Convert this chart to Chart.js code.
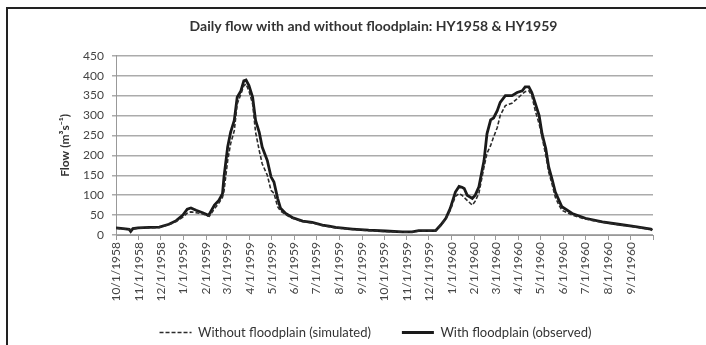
<!DOCTYPE html>
<html>
<head>
<meta charset="utf-8">
<script src="https://cdn.jsdelivr.net/npm/chart.js@4"></script>
<style>
  body { margin: 0; background: #fff; }
  #wrap { position: relative; width: 706px; height: 345px; }
  #frame {
    position: absolute; left: 6px; top: 7px; width: 700px; height: 338px;
    border-left: 2px solid #222; border-top: 2px solid #222; pointer-events: none;
  }
</style>
</head>
<body>
<div id="wrap">
  <canvas id="flow_chart" width="706" height="345"></canvas>
  <div id="frame"></div>
</div>
<script>
// days since 10/1/1958
var days = [0, 10, 18, 20, 23, 30, 45, 59, 72, 82,
  91, 97, 102, 109, 118, 125, 127, 134, 140, 145,
  147, 152, 156, 161, 165, 170, 174, 177, 181, 186,
  190, 195, 199, 206, 211, 215, 220, 224, 231, 240,
  254, 267, 281, 290, 299, 322, 344, 367, 390, 403,
  412, 435, 442, 449, 455, 462, 467, 471, 474, 478,
  485, 489, 494, 501, 505, 510, 514, 519, 523, 530,
  539, 546, 553, 557, 562, 566, 571, 576, 580, 585,
  589, 594, 598, 603, 607, 621, 639, 662, 684, 707,
  728, 730];

var withFlow = [18, 16, 14, 9, 16, 18, 19, 20, 27, 36,
  50, 65, 68, 62, 56, 50, 52, 75, 87, 104,
  146, 221, 258, 288, 346, 362, 387, 389, 375, 346,
  288, 258, 221, 187, 146, 133, 92, 67, 54, 44,
  35, 32, 25, 22, 19, 15, 12, 10, 8, 8,
  11, 11, 25, 42, 67, 108, 122, 120, 117, 100,
  92, 100, 121, 187, 254, 289, 294, 312, 333, 350,
  350, 358, 362, 372, 372, 358, 329, 300, 254, 217,
  171, 137, 108, 87, 71, 54, 42, 33, 27, 21,
  15, 12];

var withoutFlow = [17, 15, 14, 13, 15, 17, 18, 19, 26, 34,
  45, 55, 58, 56, 53, 48, 47, 66, 80, 95,
  110, 187, 229, 262, 329, 354, 375, 379, 362, 329,
  258, 212, 179, 150, 112, 105, 71, 60, 51, 42,
  34, 30, 24, 21, 18, 14, 11, 9, 7, 7,
  10, 10, 24, 40, 62, 97, 104, 100, 94, 87,
  75, 85, 105, 171, 205, 225, 246, 270, 300, 325,
  331, 342, 354, 360, 362, 350, 310, 279, 246, 200,
  158, 125, 95, 75, 62, 50, 40, 32, 26, 20,
  14, 12];

var tickDays = [0, 31, 61, 92, 123, 151, 182, 212, 243, 273, 304, 335,
  365, 396, 426, 457, 488, 517, 548, 578, 609, 639, 670, 701, 731];
var tickLabels = ['10/1/1958', '11/1/1958', '12/1/1958', '1/1/1959', '2/1/1959',
  '3/1/1959', '4/1/1959', '5/1/1959', '6/1/1959', '7/1/1959', '8/1/1959',
  '9/1/1959', '10/1/1959', '11/1/1959', '12/1/1959', '1/1/1960', '2/1/1960',
  '3/1/1960', '4/1/1960', '5/1/1960', '6/1/1960', '7/1/1960', '8/1/1960',
  '9/1/1960'];

const FONT = 'Lato, "Open Sans", sans-serif';

function toPoints(values) {
  return days.map((d, i) => ({x: d, y: values[i]}));
}

// title and legend sit over the plot rather than the whole canvas
var nudge = {
  id: 'nudge',
  afterLayout(chart) {
    chart.titleBlock.left = 94;
    chart.legend.left += 43;
    chart.legend.top -= 10;
  }
};

window.onload = () => {
  new Chart('flow_chart', {
    type: 'line',
    data: {
      datasets: [{
        label: 'Without floodplain (simulated)',
        data: toPoints(withoutFlow),
        borderColor: '#2b2b2b',
        borderWidth: 1.6,
        borderDash: [4, 2],
        pointRadius: 0,
        tension: 0,
        fill: false
      }, {
        label: 'With floodplain (observed)',
        data: toPoints(withFlow),
        borderColor: '#1a1a1a',
        borderWidth: 2.8,
        pointRadius: 0,
        tension: 0,
        fill: false
      }]
    },
    plugins: [nudge],
    options: {
      responsive: false,
      animation: false,
      layout: {padding: {left: 55, right: 53, top: 0, bottom: 0}},
      plugins: {
        title: {
          display: true,
          text: 'Daily flow with and without floodplain: HY1958 & HY1959',
          color: '#333',
          font: {family: FONT, size: 14, weight: 'bold'},
          padding: {top: 18, bottom: 21}
        },
        legend: {
          position: 'bottom',
          maxHeight: 40,
          labels: {
            usePointStyle: true,
            pointStyle: 'line',
            pointStyleWidth: 32,
            padding: 31,
            color: '#333',
            font: {family: FONT, size: 13},
            generateLabels: (chart) => {
              let items = Chart.defaults.plugins.legend.labels.generateLabels(chart);
              items.forEach((item, i) => {
                let ds = chart.data.datasets[i];
                item.lineDash = ds.borderDash || [];
                item.lineWidth = ds.borderWidth;
                item.strokeStyle = ds.borderColor;
              });
              return items;
            }
          }
        },
        tooltip: {enabled: false}
      },
      scales: {
        x: {
          type: 'linear',
          min: 0,
          max: 731,
          afterBuildTicks: (scale) => {
            scale.ticks = tickDays.map(v => ({value: v}));
          },
          afterFit: (scale) => { scale.height = 70; },
          ticks: {
            autoSkip: false,
            minRotation: 90,
            maxRotation: 90,
            padding: 2,
            color: '#444',
            font: {family: FONT, size: 12},
            callback: (value) => {
              let i = tickDays.indexOf(value);
              return tickLabels[i] || '';
            }
          },
          grid: {drawOnChartArea: false, drawTicks: true, tickLength: 5, color: '#999'},
          border: {color: '#999', width: 1}
        },
        y: {
          min: 0,
          max: 450,
          afterFit: (scale) => { scale.width = 61; },
          ticks: {
            stepSize: 50,
            padding: 8,
            color: '#444',
            font: {family: FONT, size: 12}
          },
          grid: {color: '#ababab', lineWidth: 1.5, tickLength: 4},
          border: {color: '#999', width: 1},
          title: {
            display: true,
            text: 'Flow (m³s⁻¹)',
            color: '#333',
            font: {family: FONT, size: 12, weight: 'bold'},
            padding: {top: 3, bottom: 0}
          }
        }
      }
    }
  });
};
</script>
</body>
</html>
